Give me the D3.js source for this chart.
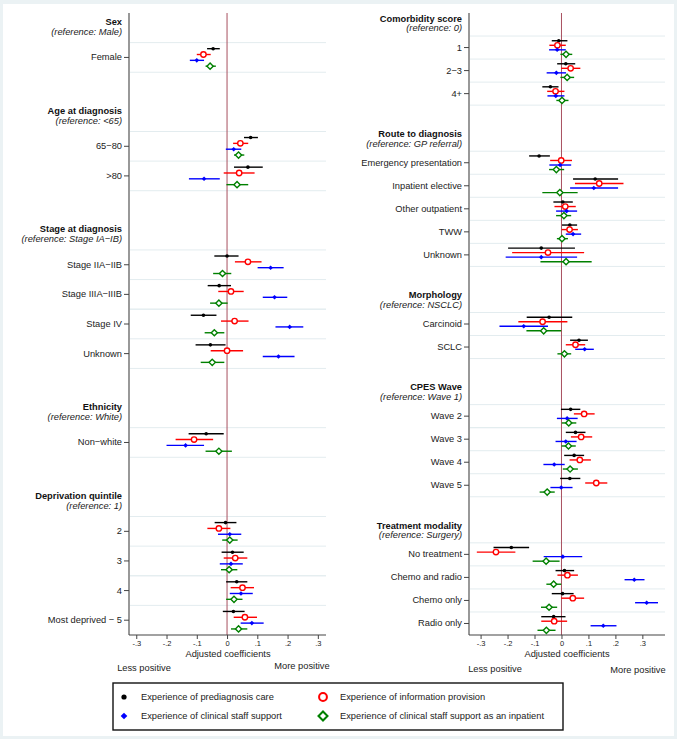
<!DOCTYPE html>
<html><head><meta charset="utf-8">
<script src="https://cdn.jsdelivr.net/npm/d3@7"></script>
<style>
html,body{margin:0;padding:0;background:#fff;}
svg{display:block;font-family:"Liberation Sans",Arial,Helvetica,sans-serif;}
</style></head>
<body>
<svg id="chart" width="677" height="739"></svg>
<script>
// ---------------- DATA ----------------
const seriesNames = ["Experience of prediagnosis care","Experience of information provision","Experience of clinical staff support","Experience of clinical staff support as an inpatient"];
const xTicks = [-0.3,-0.2,-0.1,0,0.1,0.2,0.3];

const leftGroups = [
  ["Sex","(reference: Male)",1],
  ["Age at diagnosis","(reference: <65)",2],
  ["Stage at diagnosis","(reference: Stage IA\u2212IB)",4],
  ["Ethnicity","(reference: White)",1],
  ["Deprivation quintile","(reference: 1)",4]
];
const leftCategories = ["Female","65\u221280",">80","Stage IIA\u2212IIB","Stage IIIA\u2212IIIB","Stage IV","Unknown","Non\u2212white","2","3","4","Most deprived \u2212 5"];

const rightGroups = [
  ["Comorbidity score","(reference: 0)",3],
  ["Route to diagnosis","(reference: GP referral)",5],
  ["Morphology","(reference: NSCLC)",2],
  ["CPES Wave","(reference: Wave 1)",4],
  ["Treatment modality","(reference: Surgery)",4]
];
const rightCategories = ["1","2\u22123","4+","Emergency presentation","Inpatient elective","Other outpatient","TWW","Unknown","Carcinoid","SCLC","Wave 2","Wave 3","Wave 4","Wave 5","No treatment","Chemo and radio","Chemo only","Radio only"];

// [estimate, lower, upper]
const prediagLeft = [[-0.046,-0.066,-0.024],[0.078,0.056,0.102],[0.069,0.023,0.118],[0.0,-0.042,0.038],[-0.026,-0.064,0.013],[-0.078,-0.12,-0.035],[-0.055,-0.104,-0.005],[-0.069,-0.127,-0.011],[-0.005,-0.041,0.031],[0.018,-0.018,0.055],[0.032,-0.003,0.067],[0.021,-0.014,0.058]];
const infoLeft = [[-0.078,-0.10,-0.054],[0.044,0.020,0.070],[0.04,-0.011,0.091],[0.069,0.026,0.114],[0.013,-0.029,0.055],[0.025,-0.02,0.071],[0.0,-0.054,0.053],[-0.109,-0.170,-0.046],[-0.027,-0.065,0.011],[0.027,-0.011,0.067],[0.051,0.012,0.089],[0.059,0.022,0.099]];
const staffLeft = [[-0.10,-0.123,-0.076],[0.022,-0.004,0.047],[-0.076,-0.126,-0.024],[0.144,0.101,0.187],[0.157,0.118,0.199],[0.207,0.160,0.252],[0.170,0.118,0.223],[-0.137,-0.2,-0.076],[0.009,-0.030,0.047],[0.013,-0.024,0.052],[0.046,0.009,0.085],[0.082,0.045,0.121]];
const inpatLeft = [[-0.056,-0.071,-0.037],[0.038,0.023,0.057],[0.033,-0.002,0.070],[-0.015,-0.046,0.014],[-0.027,-0.056,0.002],[-0.042,-0.074,-0.009],[-0.049,-0.087,-0.009],[-0.027,-0.071,0.016],[0.009,-0.016,0.035],[0.007,-0.02,0.034],[0.023,-0.003,0.051],[0.038,0.013,0.067]];

const prediagRight = [[-0.010,-0.036,0.022],[0.016,-0.016,0.051],[-0.041,-0.071,-0.011],[-0.083,-0.12,-0.043],[0.125,0.043,0.210],[0.005,-0.03,0.042],[0.031,0.002,0.058],[-0.075,-0.198,0.05],[-0.046,-0.129,0.04],[0.065,0.032,0.098],[0.034,-0.002,0.07],[0.052,0.016,0.089],[0.047,0.01,0.084],[0.031,-0.005,0.07],[-0.186,-0.252,-0.12],[0.011,-0.022,0.047],[0.004,-0.036,0.045],[-0.029,-0.075,0.015]];
const infoRight = [[-0.015,-0.045,0.016],[0.034,-0.001,0.070],[-0.022,-0.053,0.011],[-0.001,-0.042,0.039],[0.14,0.05,0.23],[0.014,-0.026,0.053],[0.030,0.001,0.061],[-0.05,-0.183,0.084],[-0.07,-0.16,0.022],[0.052,0.016,0.088],[0.084,0.046,0.123],[0.073,0.035,0.114],[0.068,0.03,0.109],[0.129,0.088,0.17],[-0.243,-0.314,-0.171],[0.022,-0.015,0.061],[0.042,-0.001,0.084],[-0.027,-0.075,0.021]];
const staffRight = [[-0.016,-0.046,0.016],[-0.019,-0.055,0.017],[-0.021,-0.052,0.011],[-0.005,-0.045,0.036],[0.12,0.032,0.21],[0.019,-0.02,0.058],[0.043,0.016,0.073],[-0.075,-0.207,0.058],[-0.14,-0.23,-0.05],[0.086,0.051,0.12],[0.021,-0.017,0.06],[0.016,-0.022,0.056],[-0.027,-0.067,0.012],[-0.001,-0.041,0.041],[0.005,-0.066,0.077],[0.27,0.234,0.308],[0.316,0.273,0.358],[0.155,0.108,0.204]];
const inpatRight = [[0.017,-0.004,0.040],[0.021,-0.004,0.047],[0.002,-0.019,0.026],[-0.019,-0.046,0.01],[-0.006,-0.071,0.06],[0.009,-0.02,0.036],[0.002,-0.017,0.024],[0.017,-0.078,0.112],[-0.066,-0.13,-0.001],[0.011,-0.015,0.036],[0.027,0.001,0.055],[0.026,0,0.053],[0.032,0.005,0.061],[-0.053,-0.081,-0.025],[-0.057,-0.107,-0.007],[-0.029,-0.056,-0.001],[-0.046,-0.076,-0.016],[-0.056,-0.089,-0.022]];

// ---------------- DRAWING ----------------
const colors = ["#000000","#ff0000","#0000ff","#008000"];
const FS = 9.3;
const svg = d3.select("#chart");
svg.append("rect").attr("width",677).attr("height",739).attr("fill","#ebf2f4");
svg.append("rect").attr("x",3).attr("y",4).attr("width",671).attr("height",732).attr("fill","#ffffff");

function symbolFor(g, i, cx, cy, scale){
  if(i===0){
    g.append("circle").attr("cx",cx).attr("cy",cy).attr("r",1.8*scale).attr("fill",colors[0]);
  } else if(i===1){
    g.append("circle").attr("cx",cx).attr("cy",cy).attr("r",2.7*scale).attr("fill","#fff").attr("stroke",colors[1]).attr("stroke-width",1.4*scale);
  } else if(i===2){
    const h=2.3*scale;
    g.append("path").attr("d",`M${cx},${cy-h}L${cx+h},${cy}L${cx},${cy+h}L${cx-h},${cy}Z`).attr("fill",colors[2]);
  } else {
    const h=3.1*scale;
    g.append("path").attr("d",`M${cx},${cy-h}L${cx+h},${cy}L${cx},${cy+h}L${cx-h},${cy}Z`).attr("fill","#fff").attr("stroke",colors[3]).attr("stroke-width",1.4*scale);
  }
}

function panel(opts){
  const {x0,x1,y0,y1,domain,groups,cats,data,xLab,lessX,moreX,lessY,moreY} = opts;
  // slots
  const slots=[]; let ci=0;
  groups.forEach((g,gi)=>{
    slots.push({id:"h"+gi,type:"h",g});
    for(let k=0;k<g[2];k++){ slots.push({id:"r"+ci,type:"r",idx:ci}); ci++; }
    if(gi<groups.length-1) slots.push({id:"b"+gi,type:"b"});
  });
  const y = d3.scaleBand().domain(slots.map(s=>s.id)).range([y0,y1]).padding(0);
  const x = d3.scaleLinear().domain(domain).range([x0,x1]);
  const bw = y.bandwidth();
  const G = svg.append("g");

  // gridlines
  const gl = new Set();
  slots.filter(s=>s.type==="r").forEach(s=>{ gl.add(y(s.id)); gl.add(y(s.id)+bw); });
  [...gl].filter(v=>v<y1-0.5).forEach(v=>{
    G.append("line").attr("x1",x0+1).attr("x2",x1).attr("y1",v).attr("y2",v).attr("stroke","#e3ecef").attr("stroke-width",1);
  });
  // zero line
  G.append("line").attr("x1",x(0)).attr("x2",x(0)).attr("y1",y0).attr("y2",y1).attr("stroke","#a8505f").attr("stroke-width",1);

  // y axis
  const rowSlots = slots.filter(s=>s.type==="r");
  const yAxis = d3.axisLeft(y).tickValues(rowSlots.map(s=>s.id)).tickFormat(id=>cats[+id.slice(1)]).tickSize(5).tickPadding(2);
  const ya = G.append("g").attr("transform",`translate(${x0},0)`).call(yAxis);
  ya.select(".domain").attr("d",`M0,${y0}V${y1}`).attr("stroke","#444").attr("stroke-width",1.1);
  ya.selectAll(".tick line").attr("stroke","#444");
  ya.selectAll(".tick text").attr("font-size",FS).attr("fill","#222").style("font-family","'Liberation Sans',Arial,sans-serif");

  // headers
  slots.filter(s=>s.type==="h").forEach(s=>{
    const c = y(s.id)+bw/2;
    G.append("text").attr("x",x0-7).attr("y",c-6).attr("dy","0.35em").attr("text-anchor","end").attr("font-size",FS).attr("font-weight","bold").attr("fill","#111").text(s.g[0]);
    G.append("text").attr("x",x0-7).attr("y",c+3.6).attr("dy","0.35em").attr("text-anchor","end").attr("font-size",FS).attr("font-style","italic").attr("fill","#222").text(s.g[1]);
  });

  // x axis
  const xAxis = d3.axisBottom(x).tickValues(xTicks).tickSize(4).tickPadding(2)
    .tickFormat(d=> d===0?"0":(d<0?"-":"")+"."+Math.round(Math.abs(d)*10));
  const xa = G.append("g").attr("transform",`translate(0,${y1})`).call(xAxis);
  xa.select(".domain").attr("d",`M${x0},0H${x1}`).attr("stroke","#444").attr("stroke-width",1.1);
  xa.selectAll(".tick line").attr("stroke","#444");
  xa.selectAll(".tick text").attr("font-size",7.5).attr("fill","#222").style("font-family","'Liberation Sans',Arial,sans-serif");

  G.append("text").attr("x",xLab).attr("y",654).attr("dy","0.35em").attr("text-anchor","middle").attr("font-size",FS).attr("fill","#222").text("Adjusted coefficients");
  G.append("text").attr("x",lessX).attr("y",lessY).attr("dy","0.35em").attr("text-anchor","middle").attr("font-size",FS).attr("fill","#222").text("Less positive");
  G.append("text").attr("x",moreX).attr("y",moreY).attr("dy","0.35em").attr("text-anchor","middle").attr("font-size",FS).attr("fill","#222").text("More positive");

  // data
  const sp = bw*0.197;
  data.forEach((ser,si)=>{
    ser.forEach((d,ri)=>{
      const cy = y("r"+ri)+bw/2 + (si-1.5)*sp;
      G.append("line").attr("x1",x(d[1])).attr("x2",x(d[2])).attr("y1",cy).attr("y2",cy).attr("stroke",colors[si]).attr("stroke-width",1.4);
      symbolFor(G, si, x(d[0]), cy, 1);
    });
  });
}

panel({x0:129,x1:326,y0:13,y1:635,domain:[-0.324,0.327],groups:leftGroups,cats:leftCategories,
  data:[prediagLeft,infoLeft,staffLeft,inpatLeft],xLab:228,lessX:144,moreX:302,lessY:668,moreY:666});
panel({x0:469,x1:665,y0:13,y1:635,domain:[-0.343,0.384],groups:rightGroups,cats:rightCategories,
  data:[prediagRight,infoRight,staffRight,inpatRight],xLab:567,lessX:495,moreX:638,lessY:669,moreY:670});

// legend
const L = svg.append("g");
L.append("rect").attr("x",113).attr("y",683).attr("width",450).attr("height",47).attr("fill","#fff").attr("stroke","#111").attr("stroke-width",1.4);
const legPos = [[124,697],[323,697],[124,716],[323,716]];
const legOrder = [0,1,2,3];
legOrder.forEach((si,k)=>{
  const [lx,ly] = [[124,697],[323,697],[124,716],[323,716]][k];
  symbolFor(L, si, lx, ly, 1.45);
  L.append("text").attr("x",lx+17).attr("y",ly).attr("dy","0.35em").attr("font-size",FS).attr("fill","#222").text(seriesNames[si]);
});
</script>
</body></html>
